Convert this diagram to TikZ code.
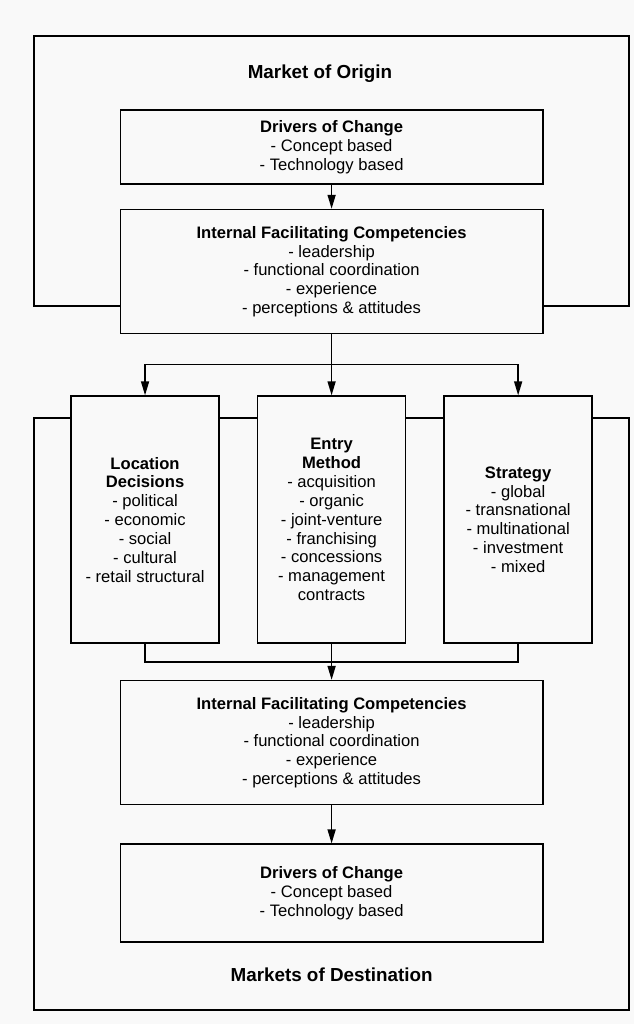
\documentclass[tikz,border=0pt]{standalone}
\usepackage{fontspec}
\setmainfont{Liberation Sans}
\usetikzlibrary{positioning,arrows.meta}
\definecolor{paper}{gray}{0.975}
\begin{document}
\begin{tikzpicture}[x=1mm, y=1mm,
    link/.style={line width=1.1pt},
    arrow/.style={link, -{Triangle[length=3.5mm, width=2mm]}},
    box/.style={rectangle, draw=black, line width=1.1pt, fill=paper, minimum width=105.6mm, align=center, font=\fontsize{11.8}{13.4}\selectfont},
    column/.style={box, minimum width=37mm, minimum height=61.75mm},
    frame/.style={rectangle, draw=black, line width=1.1pt, minimum width=148.75mm, inner sep=0pt},
    heading/.style={font=\fontsize{13.4}{16}\selectfont\bfseries}]
    \path[use as bounding box, fill=paper] (0,0) rectangle (158.5,-256);
    % Frames
    \node[frame, minimum height=67.5mm] (originframe) at (82.9,-42.75) {};
    \node[frame, minimum height=148mm]  (destframe)   at (82.9,-178.5) {};
    \node[heading] (origin) at (80,-18.5)     {Market of Origin};
    \node[heading] (dest)   at (82.9,-243.75) {Markets of Destination};
    % Place nodes
    \node[box, minimum height=18.5mm] (drvA) at (82.9,-36.75)
        {\textbf{Drivers of Change}\\- Concept based\\- Technology based};
    \node[box, minimum height=31mm] (ifcA) [below=6mm of drvA]
        {\textbf{Internal Facilitating Competencies}\\- leadership\\- functional coordination\\- experience\\- perceptions \& attitudes};
    \node[column] (entry) [below=15.25mm of ifcA]
        {\textbf{Entry}\\\textbf{Method}\\- acquisition\\- organic\\- joint-venture\\- franchising\\- concessions\\- management\\contracts};
    \node[column] (loc)   [left=9.25mm of entry]
        {\textbf{Location}\\\textbf{Decisions}\\- political\\- economic\\- social\\- cultural\\- retail structural};
    \node[column] (strat) [right=9.25mm of entry]
        {\textbf{Strategy}\\- global\\- transnational\\- multinational\\- investment\\- mixed};
    \node[box, minimum height=31mm] (ifcB) [below=9mm of entry]
        {\textbf{Internal Facilitating Competencies}\\- leadership\\- functional coordination\\- experience\\- perceptions \& attitudes};
    \node[box, minimum height=24.5mm] (drvB) [below=9.5mm of ifcB]
        {\textbf{Drivers of Change}\\- Concept based\\- Technology based};
    \coordinate[below=7.5mm of ifcA.south] (split);
    \coordinate[below=4.5mm of entry.south] (join);
    % Create edges
      \draw[arrow] (drvA)  -- (ifcA);
      \draw[arrow] (ifcA)  -- (entry);
      \draw[arrow] (split) -| (loc);
      \draw[arrow] (split) -| (strat);
      \draw[link]  (loc)   |- (join);
      \draw[link]  (strat) |- (join);
      \draw[arrow] (entry) -- (ifcB);
      \draw[arrow] (ifcB)  -- (drvB);
\end{tikzpicture}
\end{document}
